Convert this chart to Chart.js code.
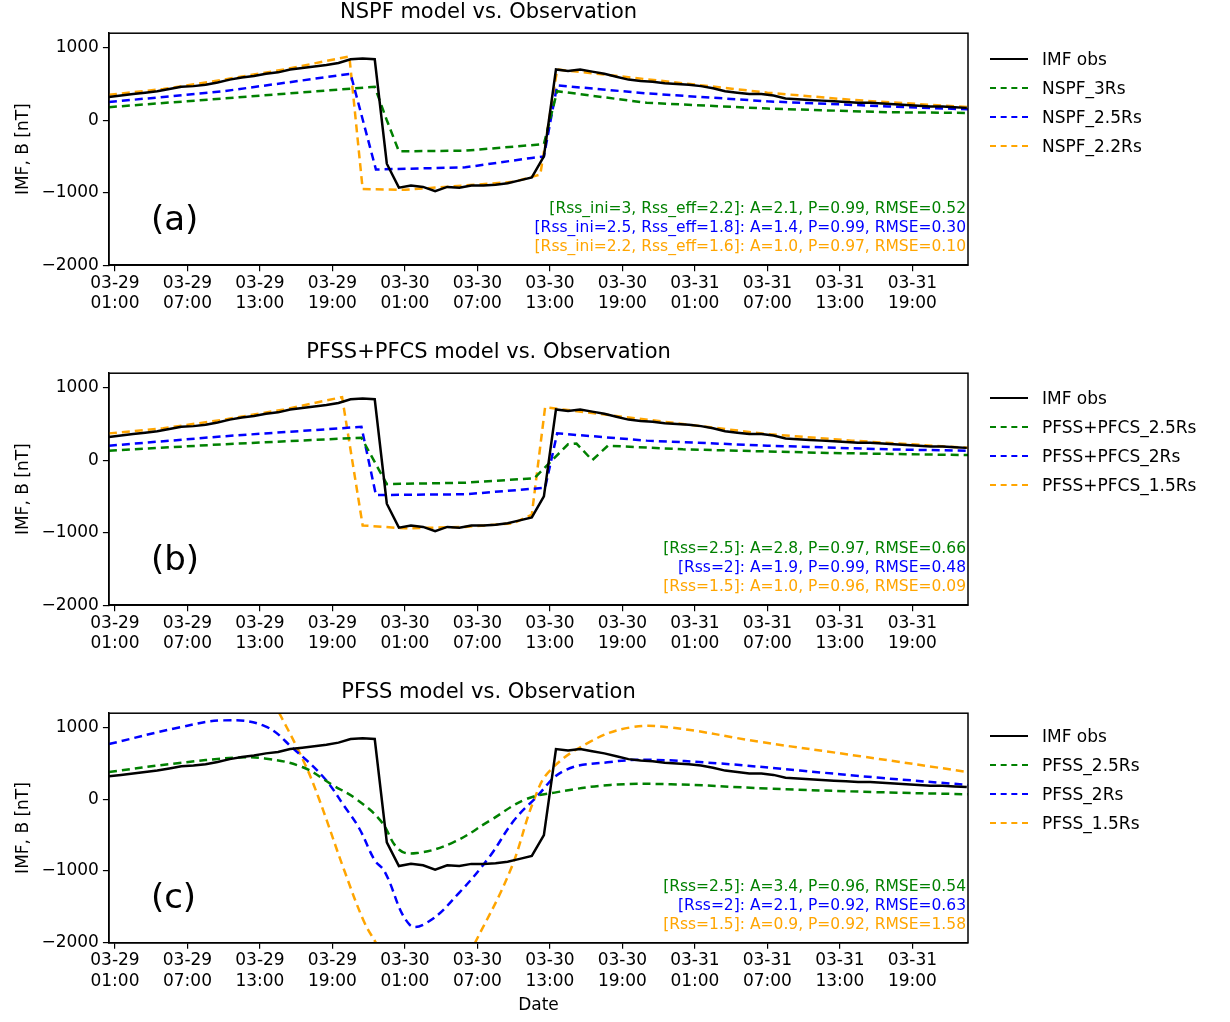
<!DOCTYPE html>
<html>
<head>
<meta charset="utf-8">
<script src="https://cdn.jsdelivr.net/npm/chart.js@4/dist/chart.umd.min.js"></script>
<style>
body { margin: 0; background: #fff; font-family: "DejaVu Sans", sans-serif; }
.panel { position: absolute; left: 0; width: 1230px; }
.legend { position: absolute; left: 990px; font-size: 17px; }
.legend div { height: 29px; display: flex; align-items: center; }
.legend span.sw { display: inline-block; width: 38px; height: 0; margin-right: 14px; }
</style>
</head>
<body>
<div class="panel" style="top:0"><canvas id="c0" width="1230" height="340"></canvas><div class="legend" id="l0" style="top:44px"></div></div>
<div class="panel" style="top:340px"><canvas id="c1" width="1230" height="340"></canvas><div class="legend" id="l1" style="top:43px"></div></div>
<div class="panel" style="top:680px"><canvas id="c2" width="1230" height="342"></canvas><div class="legend" id="l2" style="top:41px"></div></div>
<script>
// hours since 03-29 00:00
const obsHours = [];
for (let i = 0; i < 72; i++) obsHours.push(i + 0.5);
const obsValues = [320,340,360,380,400, 430,460,470,490,520, 560,590,610,640,660,
  700,720,740,760,790, 840,850,840, -600,-930, -900,-920,-980,-920,-930,
  -900,-900,-890,-870,-830, -790,-500,700, 680,700,670,640,600,
  560,540,530,510,500, 490,470,440,400,380, 360,360,340,300,290,
  280,270,260,250,240, 240,230,220,210,200, 190,190,180,170];

const tickHours = [1,7,13,19,25,31,37,43,49,55,61,67];
const tickLabels = [['03-29','01:00'],['03-29','07:00'],['03-29','13:00'],['03-29','19:00'],
  ['03-30','01:00'],['03-30','07:00'],['03-30','13:00'],['03-30','19:00'],
  ['03-31','01:00'],['03-31','07:00'],['03-31','13:00'],['03-31','19:00']];
const yTicks = [-2000, -1000, 0, 1000];

// panel (a) NSPF
const nspf3Hours = [0.5,10,22.5,23.5,24.5,30,36.5,37.6,45,55,65,71.6];
const nspf3Values = [180,300,460,0,-430,-420,-330,400,240,160,110,100];
const nspf25Hours = [0.5,10,20.5,22.6,30,35.5,36.5,37.6,45,55,65,71.6];
const nspf25Values = [250,400,640,-680,-650,-520,-500,480,370,260,190,150];
const nspf22Hours = [0.5,5,10,15,20.4,21.5,25,30,34,36.2,37.6,42,48,55,62,71.6];
const nspf22Values = [350,430,560,700,880,-950,-960,-900,-850,-750,700,620,510,380,280,180];

// panel (b) PFSS+PFCS
const pc25Hours = [0.5,10,21.4,23.5,30,35.7,38.5,39.2,40.5,41.8,48,60,71.6];
const pc25Values = [130,220,310,-330,-310,-250,220,230,0,200,150,100,70];
const pc2Hours = [0.5,10,21.4,22.6,30,36.6,37.6,45,55,65,71.6];
const pc2Values = [200,330,460,-480,-470,-380,370,270,200,150,130];
const pc15Hours = [0.5,5,10,15,19.8,21.5,25,30,34,35.5,36.6,42,48,55,62,71.6];
const pc15Values = [370,440,560,700,870,-900,-940,-920,-870,-750,730,620,500,360,270,170];

// panel (c) PFSS
const ps25Hours = [0.5,6,11,13.4,16.5,19,21,23,24.5,26,29,32,35,37.6,42,47,55,64,71.6];
const ps25Values = [380,500,580,570,450,200,0,-300,-700,-750,-600,-300,0,100,200,210,150,100,70];
const ps2Hours = [0.5,6.3,10,13.4,15.8,18.3,20,21.2,22.5,23.3,25.4,27,29.5,32,34,35.7,38.2,42,45.3,51,57.7,64.3,71.6];
const ps2Values = [770,1000,1100,1020,700,300,-100,-400,-850,-1000,-1750,-1700,-1300,-800,-300,0,400,520,550,500,400,300,200];
const ps15Hours = [12,14.6,16.7,17.9,20,21.6,22.6,24,27,29.5,30.8,33.7,35.7,37,40.3,43.6,47,54.4,62.7,71.6];
const ps15Values = [2000,1200,500,0,-1000,-1700,-2000,-2400,-2600,-2400,-2000,-1000,0,400,800,1000,1000,800,600,380];

function pts(h, v) { return h.map((x, i) => ({x: x, y: v[i]})); }

function ds(label, h, v, color, dashed) {
  return { label: label, data: pts(h, v), borderColor: color, borderWidth: 2.5,
    borderDash: dashed ? [8, 5] : [], pointRadius: 0, tension: dashed && label.indexOf('PFSS_') === 0 ? 0.4 : 0, fill: false };
}

const textPlugin = {
  id: 'panelText',
  afterDraw(chart) {
    const o = chart.options.plugins.panelText;
    const a = chart.chartArea, ctx = chart.ctx;
    ctx.save();
    ctx.font = '34px "DejaVu Sans"';
    ctx.fillStyle = '#000';
    ctx.textAlign = 'left';
    ctx.textBaseline = 'middle';
    ctx.fillText(o.letter, a.left + 42, a.bottom - 44);
    ctx.font = '15.5px "DejaVu Sans"';
    ctx.textAlign = 'right';
    o.lines.forEach((l, i) => {
      ctx.fillStyle = l[1];
      ctx.fillText(l[0], a.right - 2, a.bottom - 56 + i * 19);
    });
    ctx.restore();
  }
};

function makePanel(id, legId, title, datasets, letter, lines, showDate) {
  const leg = document.getElementById(legId);
  datasets.forEach(d => {
    const row = document.createElement('div');
    const style = d.borderDash.length ? 'dashed' : 'solid';
    row.innerHTML = '<span class="sw" style="border-top:2.5px ' + style + ' ' + d.borderColor + '"></span>' + d.label;
    leg.appendChild(row);
  });
  new Chart(document.getElementById(id), {
    type: 'line',
    data: { datasets: datasets },
    plugins: [textPlugin],
    options: {
      responsive: false, animation: false,
      layout: { padding: { left: 9, right: 262, top: 0, bottom: showDate ? 4 : 24 } },
      plugins: {
        legend: { display: false }, tooltip: { enabled: false },
        title: { display: true, text: title, color: '#000', font: { family: 'DejaVu Sans', size: 21, weight: 'normal' }, padding: { top: 0, bottom: 8 } },
        panelText: { letter: letter, lines: lines }
      },
      scales: {
        x: {
          type: 'linear', min: 0.5, max: 71.6,
          afterBuildTicks: ax => { ax.ticks = tickHours.map(v => ({value: v})); },
          ticks: { color: '#000', font: { family: 'DejaVu Sans', size: 17 }, maxRotation: 0, autoSkip: false, padding: 2,
            callback: (v) => tickLabels[tickHours.indexOf(v)] },
          grid: { display: true, drawOnChartArea: false, drawTicks: true, tickLength: 6, color: '#000', lineWidth: 1.2 },
          border: { color: '#000', width: 1.5 },
          title: { display: showDate, text: 'Date', color: '#000', font: { family: 'DejaVu Sans', size: 17 }, padding: 2 }
        },
        y: {
          min: -2000, max: 1200,
          afterBuildTicks: ax => { ax.ticks = yTicks.map(v => ({value: v})); },
          ticks: { color: '#000', font: { family: 'DejaVu Sans', size: 17 }, padding: 4, callback: v => v < 0 ? '\u2212' + (-v) : String(v) },
          grid: { display: true, drawOnChartArea: false, drawTicks: true, tickLength: 6, color: '#000', lineWidth: 1.2 },
          border: { color: '#000', width: 1.5 },
          title: { display: true, text: 'IMF, B [nT]', color: '#000', font: { family: 'DejaVu Sans', size: 17 }, padding: 4 }
        }
      }
    }
  });
}

// frame around each plot area
Chart.register({
  id: 'box',
  afterDraw(chart) {
    const a = chart.chartArea, ctx = chart.ctx;
    ctx.save(); ctx.strokeStyle = '#000'; ctx.lineWidth = 1.5;
    ctx.strokeRect(a.left, a.top, a.right - a.left, a.bottom - a.top);
    ctx.restore();
  }
});

makePanel('c0', 'l0', 'NSPF model vs. Observation', [
  ds('IMF obs', obsHours, obsValues, '#000', false),
  ds('NSPF_3Rs', nspf3Hours, nspf3Values, 'green', true),
  ds('NSPF_2.5Rs', nspf25Hours, nspf25Values, 'blue', true),
  ds('NSPF_2.2Rs', nspf22Hours, nspf22Values, 'orange', true)
], '(a)', [
  ['[Rss_ini=3, Rss_eff=2.2]: A=2.1, P=0.99, RMSE=0.52', 'green'],
  ['[Rss_ini=2.5, Rss_eff=1.8]: A=1.4, P=0.99, RMSE=0.30', 'blue'],
  ['[Rss_ini=2.2, Rss_eff=1.6]: A=1.0, P=0.97, RMSE=0.10', 'orange']
], false);

makePanel('c1', 'l1', 'PFSS+PFCS model vs. Observation', [
  ds('IMF obs', obsHours, obsValues, '#000', false),
  ds('PFSS+PFCS_2.5Rs', pc25Hours, pc25Values, 'green', true),
  ds('PFSS+PFCS_2Rs', pc2Hours, pc2Values, 'blue', true),
  ds('PFSS+PFCS_1.5Rs', pc15Hours, pc15Values, 'orange', true)
], '(b)', [
  ['[Rss=2.5]: A=2.8, P=0.97, RMSE=0.66', 'green'],
  ['[Rss=2]: A=1.9, P=0.99, RMSE=0.48', 'blue'],
  ['[Rss=1.5]: A=1.0, P=0.96, RMSE=0.09', 'orange']
], false);

makePanel('c2', 'l2', 'PFSS model vs. Observation', [
  ds('IMF obs', obsHours, obsValues, '#000', false),
  ds('PFSS_2.5Rs', ps25Hours, ps25Values, 'green', true),
  ds('PFSS_2Rs', ps2Hours, ps2Values, 'blue', true),
  ds('PFSS_1.5Rs', ps15Hours, ps15Values, 'orange', true)
], '(c)', [
  ['[Rss=2.5]: A=3.4, P=0.96, RMSE=0.54', 'green'],
  ['[Rss=2]: A=2.1, P=0.92, RMSE=0.63', 'blue'],
  ['[Rss=1.5]: A=0.9, P=0.92, RMSE=1.58', 'orange']
], true);
</script>
</body>
</html>
